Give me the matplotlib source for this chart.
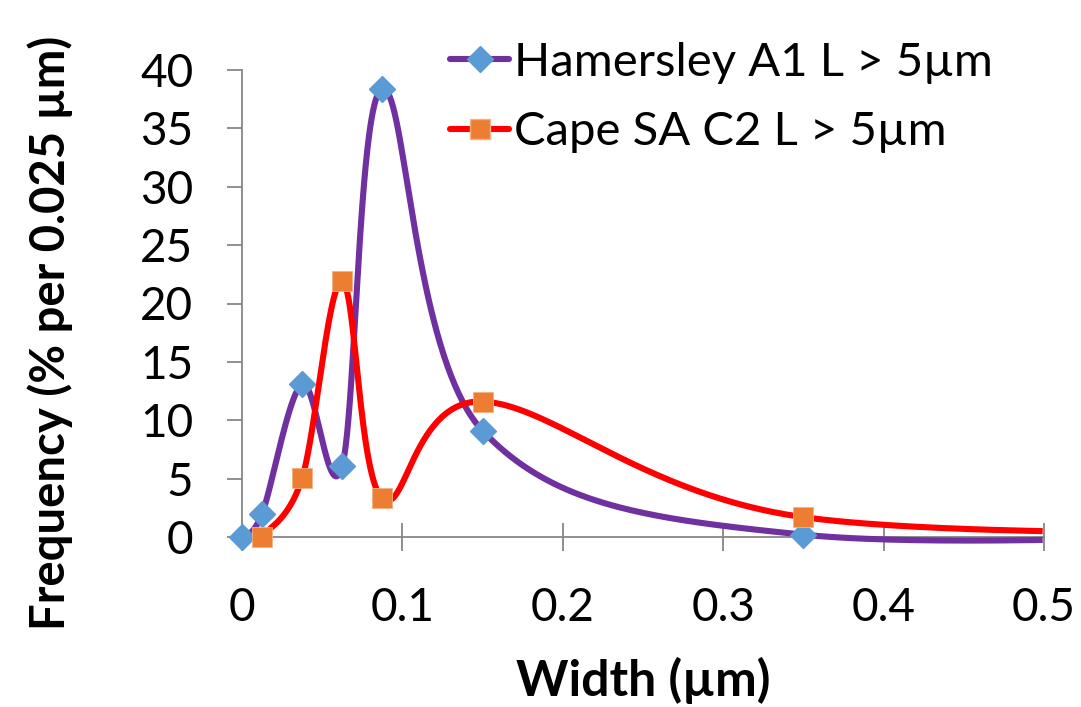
import numpy as np
import matplotlib
matplotlib.use("Agg")
import matplotlib.pyplot as plt
from matplotlib.lines import Line2D

plt.rcParams['font.family'] = ['Lato', 'DejaVu Sans']

# Width bin centres (µm) and frequencies (% per 0.025 µm)
hamersley_x = [0.0, 0.0125, 0.0375, 0.0625, 0.0875, 0.15, 0.35, 0.75]
hamersley_y = [0.0, 2.0, 13.1, 6.1, 38.4, 9.1, 0.2, 0.8]
cape_x = [0.0125, 0.0375, 0.0625, 0.0875, 0.15, 0.35, 0.75]
cape_y = [0.0, 5.05, 21.9, 3.3, 11.6, 1.7, 0.3]

x_ticks = [0, 0.1, 0.2, 0.3, 0.4, 0.5]
x_tick_labels = ["0", "0.1", "0.2", "0.3", "0.4", "0.5"]
y_ticks = [0, 5, 10, 15, 20, 25, 30, 35, 40]

X_MAX = 0.5
Y_MAX = 40


def smooth(xs, ys, n=80):
    """Cubic Bezier smoothing through every point (Catmull-Rom style tangents)."""
    p = np.column_stack([xs, ys]).astype(float)
    out = []
    for i in range(len(p) - 1):
        p0 = p[i - 1] if i > 0 else p[i]
        p1, p2 = p[i], p[i + 1]
        p3 = p[i + 2] if i + 2 < len(p) else p[i + 1]
        c1 = p1 + (p2 - p0) / 6.0
        c2 = p2 - (p3 - p1) / 6.0
        t = np.linspace(0, 1, n)[:, None]
        seg = ((1 - t) ** 3) * p1 + 3 * ((1 - t) ** 2) * t * c1 + 3 * (1 - t) * t ** 2 * c2 + t ** 3 * p2
        out.append(seg if i == 0 else seg[1:])
    s = np.vstack(out)
    keep = s[:, 0] <= X_MAX
    return s[keep, 0], s[keep, 1]


def visible(xs, ys):
    xs = np.asarray(xs)
    ys = np.asarray(ys)
    m = xs <= X_MAX
    return xs[m], ys[m]


fig = plt.figure(figsize=(10.81, 7.07), dpi=100)
ax = fig.add_axes([242 / 1081, 1 - 537 / 707, (1044 - 242) / 1081, (537 - 70) / 707])

purple = "#7030A0"
blue = "#5B9BD5"
red = "#FF0000"
orange = "#ED7D31"
LW = 4.4

hx, hy = smooth(hamersley_x, hamersley_y)
cx, cy = smooth(cape_x, cape_y)

ax.plot(hx, hy, color=purple, lw=LW, solid_capstyle="butt", zorder=3, clip_on=False)
ax.plot(cx, cy, color=red, lw=LW, solid_capstyle="butt", zorder=4, clip_on=False)
mx, my = visible(hamersley_x, hamersley_y)
ax.plot(mx, my, ls="none", marker="D", ms=13, color=blue,
        markeredgecolor=blue, zorder=5, clip_on=False)
mx, my = visible(cape_x, cape_y)
ax.plot(mx, my, ls="none", marker="s", ms=14, color=orange,
        markeredgecolor="#F4B183", markeredgewidth=0.6, zorder=6, clip_on=False)

ax.set_xlim(0, X_MAX)
ax.set_ylim(0, Y_MAX)
ax.set_xticks(x_ticks)
ax.set_xticklabels(x_tick_labels)
ax.set_yticks(y_ticks)

for side in ["top", "right"]:
    ax.spines[side].set_visible(False)
for side in ["left", "bottom"]:
    ax.spines[side].set_color("#868686")
    ax.spines[side].set_linewidth(1.3)
    ax.spines[side].set_zorder(2)

ax.tick_params(axis="x", direction="inout", length=20, width=1.3, color="#868686",
               labelsize=33, pad=26)
ax.tick_params(axis="y", direction="out", length=11, width=1.3, color="#868686",
               labelsize=33, pad=24)

fig.text(643 / 1081, 1 - 680 / 707, "Width (µm)", fontsize=36, fontweight="bold",
         ha="center", va="center")
fig.text(50 / 1081, 1 - 333 / 707, "Frequency (% per 0.025 µm)", fontsize=34,
         fontweight="bold", ha="center", va="center", rotation=90)

handles = [
    Line2D([], [], color=purple, lw=LW, marker="D", ms=13, markerfacecolor=blue,
           markeredgecolor=blue, solid_capstyle="round"),
    Line2D([], [], color=red, lw=LW, marker="s", ms=14, markerfacecolor=orange,
           markeredgecolor="#F4B183", solid_capstyle="round"),
]
fig.legend(handles, ["Hamersley A1 L > 5µm", "Cape SA C2 L > 5µm"],
           loc="upper left", bbox_to_anchor=(450 / 1081, 1 - 42 / 707),
           frameon=False, fontsize=34, handlelength=1.25, handletextpad=0.1,
           labelspacing=0.58, borderaxespad=0, borderpad=0)

fig.savefig("out.png", dpi=100)
